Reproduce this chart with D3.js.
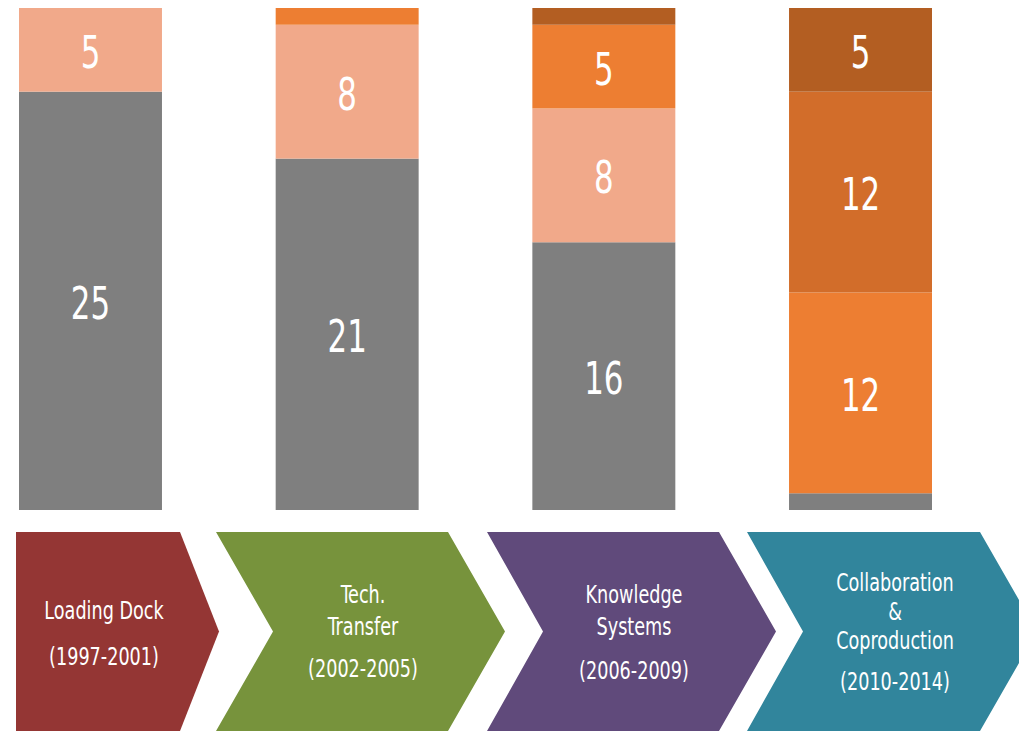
<!DOCTYPE html>
<html>
<head>
<meta charset="utf-8">
<script src="https://cdn.jsdelivr.net/npm/d3@7"></script>
<style>
  html, body { margin: 0; padding: 0; background: #ffffff; }
  svg { display: block; }
  text { font-family: "Liberation Sans Narrow", "DejaVu Sans Condensed", "Open Sans", sans-serif; fill: #ffffff; }
</style>
</head>
<body>
<svg id="chart" width="1019" height="731"></svg>
<script>
// ---- Data ----
const categories = ["Loading Dock", "Tech. Transfer", "Knowledge Systems", "Collaboration & Coproduction"];
const periods = ["(1997-2001)", "(2002-2005)", "(2006-2009)", "(2010-2014)"];
const stageLines = [
  ["Loading Dock"],
  ["Tech.", "Transfer"],
  ["Knowledge", "Systems"],
  ["Collaboration", "&", "Coproduction"]
];
const seriesNames = ["s1", "s2", "s3", "s4", "s5"];
const s1Values = [25, 21, 16, 1];
const s2Values = [5, 8, 8, 0];
const s3Values = [0, 1, 5, 12];
const s4Values = [0, 0, 0, 12];
const s5Values = [0, 0, 1, 5];
const seriesColors = ["#7f7f7f", "#f1a98a", "#ed7e32", "#d26d2a", "#b35e22"];
const stageColors = ["#943634", "#77933c", "#604a7b", "#31859c"];

// ---- Build table ----
const seriesValues = [s1Values, s2Values, s3Values, s4Values, s5Values];
const table = categories.map((c, i) => {
  const row = { cat: c };
  seriesNames.forEach((s, k) => row[s] = seriesValues[k][i]);
  return row;
});
const stack = d3.stack().keys(seriesNames)(table);

const svg = d3.select("#chart");

const x = d3.scaleBand().domain(categories).range([19, 932]).paddingInner(0.443).paddingOuter(0);
const y = d3.scaleLinear().domain([0, 30]).range([510, 8]);

const layers = svg.append("g").selectAll("g").data(stack).join("g")
  .attr("fill", (d, i) => seriesColors[i]);

layers.selectAll("rect").data(d => d.filter(p => p[1] - p[0] > 0)).join("rect")
  .attr("x", d => x(d.data.cat))
  .attr("width", x.bandwidth())
  .attr("y", d => y(d[1]))
  .attr("height", d => y(d[0]) - y(d[1]));

layers.selectAll("text").data(d => d.filter(p => p[1] - p[0] >= 5)).join("text")
  .attr("transform", d => `translate(${x(d.data.cat) + x.bandwidth() / 2},${(y(d[0]) + y(d[1])) / 2 + 2.5}) scale(0.78,1)`)
  .attr("text-anchor", "middle")
  .attr("dominant-baseline", "central")
  .attr("font-size", 44)
  .text(d => d[1] - d[0]);

// ---- Chevrons ----
const chTop = 532, chMid = 631.5, chBot = 731;
const chev = [
  { l: 16, notch: 0, tr: 180, tip: 219, tx: 104, lines: [619], year: 665 },
  { l: 216, notch: 57, tr: 448, tip: 505, tx: 363, lines: [603, 635], year: 677 },
  { l: 487, notch: 56, tr: 719, tip: 776, tx: 634, lines: [603, 635], year: 679 },
  { l: 747, notch: 56, tr: 980, tip: 1037, tx: 895, lines: [591, 620, 649], year: 690 }
];
const line = d3.line();
const g2 = svg.append("g");
chev.forEach((c, i) => {
  const pts = [[c.l, chTop], [c.tr, chTop], [c.tip, chMid], [c.tr, chBot], [c.l, chBot], [c.l + c.notch, chMid]];
  g2.append("path").attr("d", line(pts) + "Z").attr("fill", stageColors[i]);
  const t = g2.append("text").attr("text-anchor", "middle").attr("font-size", 24.5)
    .attr("transform", `translate(${c.tx},0) scale(0.8,1)`);
  stageLines[i].forEach((s, k) => {
    t.append("tspan").attr("x", 0).attr("y", c.lines[k]).text(s);
  });
  t.append("tspan").attr("x", 0).attr("y", c.year).text(periods[i]);
});
</script>
</body>
</html>
